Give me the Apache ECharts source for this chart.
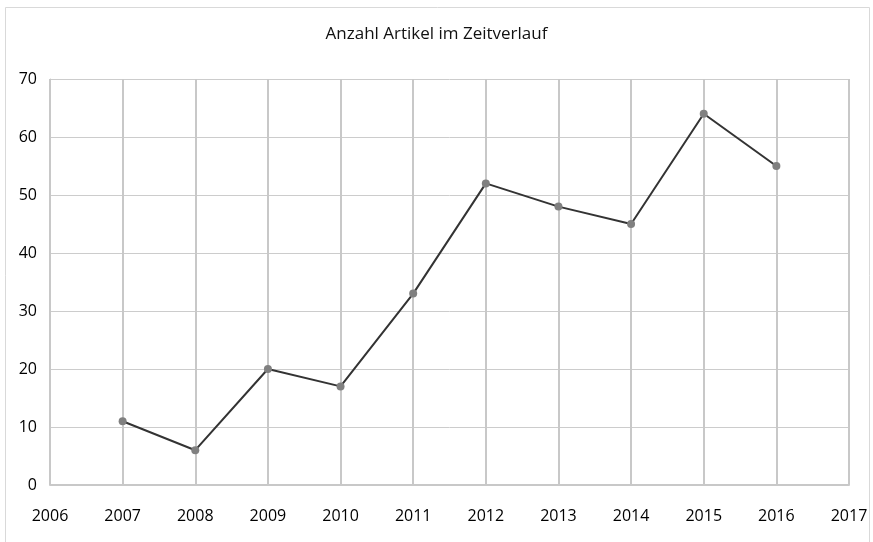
<!DOCTYPE html>
<html><head><meta charset="utf-8">
<script src="https://cdn.jsdelivr.net/npm/echarts@6/dist/echarts.min.js"></script>
<style>html,body{margin:0;padding:0;background:#fff}#c{width:873px;height:542px}</style>
</head><body><div id="c"></div>
<script>
const years = [2007, 2008, 2009, 2010, 2011, 2012, 2013, 2014, 2015, 2016];
const articles = [11, 6, 20, 17, 33, 52, 48, 45, 64, 55];
const titleText = 'Anzahl Artikel im Zeitverlauf';
const FONT = '"Open Sans", "Liberation Sans", sans-serif';
const chart = echarts.init(document.getElementById('c'), null, {renderer: 'canvas'});
chart.setOption({
  animation: false,
  backgroundColor: '#fff',
  graphic: [{type: 'rect', shape: {x: 5.5, y: 7.5, width: 864, height: 560}, style: {fill: 'none', stroke: '#d9d9d9', lineWidth: 1}, silent: true}],
  title: {text: titleText, left: 'center', top: 21, textStyle: {fontFamily: FONT, fontSize: 17, fontWeight: 'normal', color: '#111'}},
  grid: {left: 50, right: 24, top: 79, bottom: 57, containLabel: false},
  xAxis: {
    type: 'value', min: 2006, max: 2017, interval: 1,
    axisLine: {show: true, lineStyle: {color: '#c8c8c8', width: 2}},
    axisTick: {show: false},
    axisLabel: {fontFamily: FONT, fontSize: 16, color: '#000', margin: 23, formatter: v => String(v)},
    splitLine: {show: true, lineStyle: {color: '#c8c8c8', width: 2}}
  },
  yAxis: {
    type: 'value', min: 0, max: 70, interval: 10,
    axisLine: {show: true, lineStyle: {color: '#c8c8c8', width: 1}},
    axisTick: {show: false},
    axisLabel: {fontFamily: FONT, fontSize: 16, color: '#000', margin: 13},
    splitLine: {show: true, lineStyle: {color: '#cccccc', width: 1}}
  },
  series: [{
    type: 'line',
    data: years.map((y, i) => [y, articles[i]]),
    symbol: 'circle', symbolSize: 8,
    lineStyle: {color: '#333333', width: 2},
    itemStyle: {color: '#808080'},
    z: 5
  }]
});
</script></body></html>
